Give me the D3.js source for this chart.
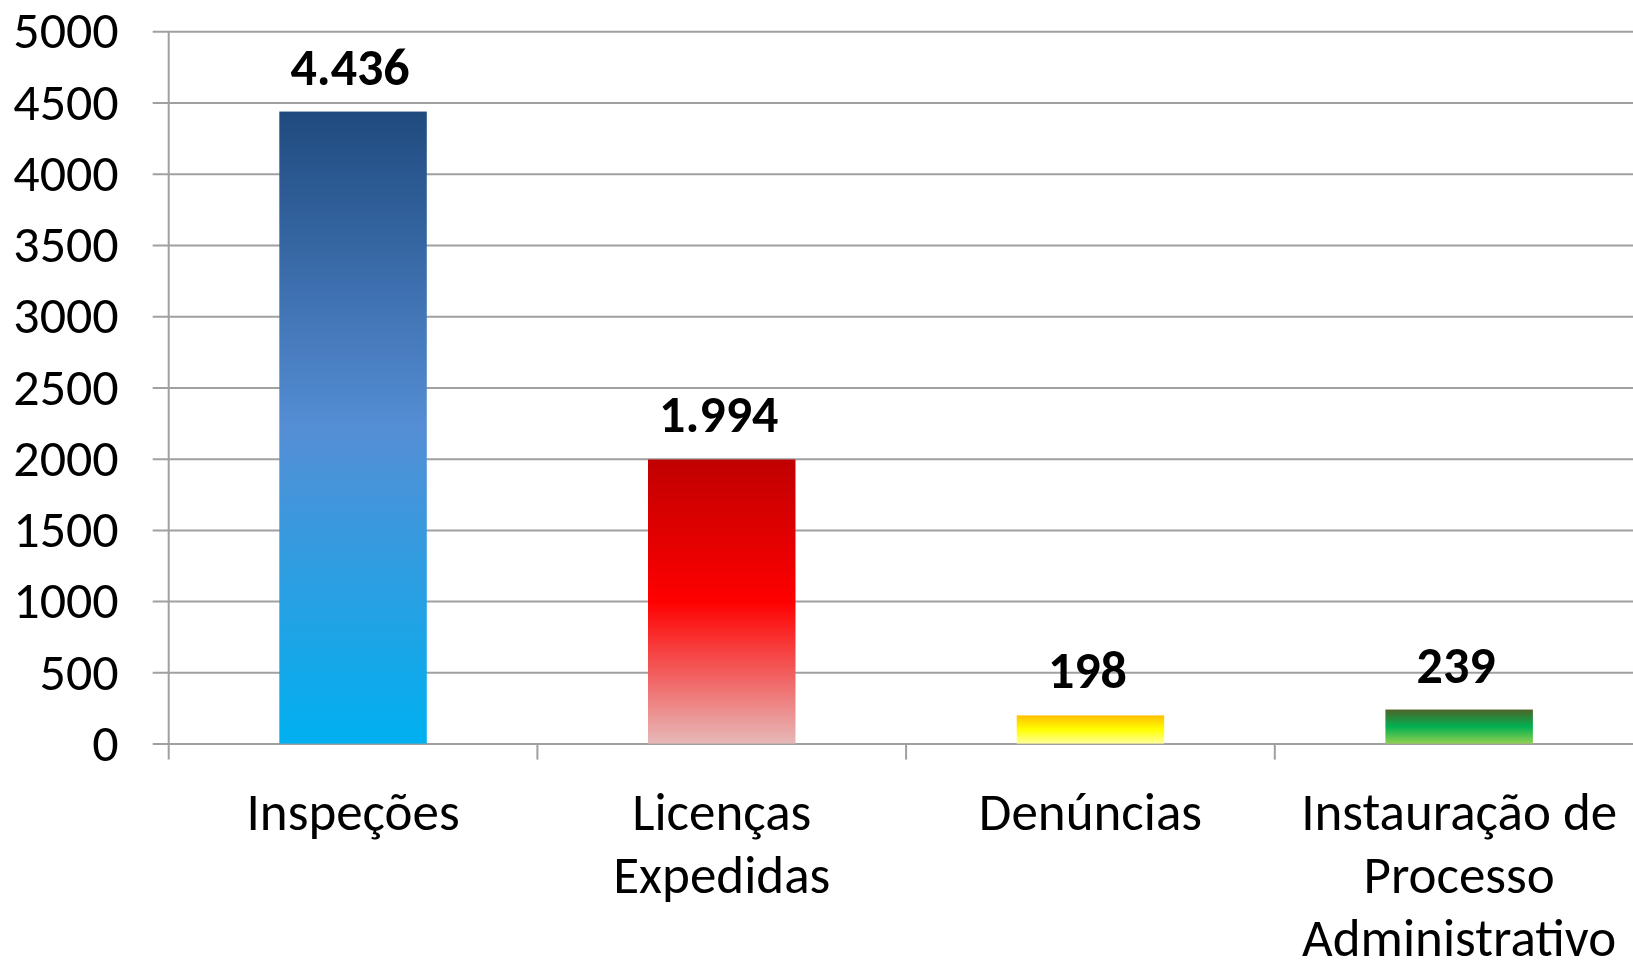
<!DOCTYPE html>
<html>
<head>
<meta charset="utf-8">
<script src="https://cdn.jsdelivr.net/npm/d3@7"></script>
<style>
  html, body { margin: 0; padding: 0; background: #fff; overflow: hidden; }
  svg { display: block; font-family: Calibri, Carlito, Lato, sans-serif; }
</style>
</head>
<body>
<svg id="chart" width="1633" height="961"></svg>
<script>
// bar chart — gradient bars, value labels, Excel look

const categories = [
  ['Inspeções'],
  ['Licenças', 'Expedidas'],
  ['Denúncias'],
  ['Instauração de', 'Processo', 'Administrativo']
];
const values = [4436, 1994, 198, 239];
const valueLabels = ['4.436', '1.994', '198', '239'];
const yTicks = [0, 500, 1000, 1500, 2000, 2500, 3000, 3500, 4000, 4500, 5000];

// gradient stops per bar, top -> bottom
const gradients = [
  ['#1f4a7e', '#558ed5', '#00b0f0'],
  ['#c00000', '#ff0000', '#e6b9b8'],
  ['#ffc000', '#ffff00', '#ffff99'],
  ['#4f6228', '#00b050', '#92d050']
];

const FONT = 'Calibri, Carlito, Lato, sans-serif';
const svg = d3.select('#chart');
const plotLeft = 168.7, plotTop = 31.2, plotBottom = 743.6, step = 368.7;
const plotRight = plotLeft + step * categories.length;

const x = d3.scaleBand()
  .domain(d3.range(categories.length))
  .range([plotLeft, plotRight])
  .padding(0);

const y = d3.scaleLinear().domain([0, 5000]).range([plotBottom, plotTop]);

const defs = svg.append('defs');
gradients.forEach((stops, i) => {
  const g = defs.append('linearGradient')
    .attr('id', 'grad' + i)
    .attr('x1', 0).attr('y1', 0).attr('x2', 0).attr('y2', 1);
  stops.forEach((c, j) => {
    g.append('stop')
      .attr('offset', (j / (stops.length - 1) * 100) + '%')
      .attr('stop-color', c);
  });
});

// gridlines + y labels (ticks stick out 16px to the left of the axis)
const yAxis = d3.axisLeft(y)
  .tickValues(yTicks)
  .tickSizeInner(-(plotRight - plotLeft + 16))
  .tickSizeOuter(0)
  .tickPadding(34)
  .tickFormat(d3.format('d'));

const yG = svg.append('g')
  .attr('transform', `translate(${plotLeft - 16},0)`)
  .call(yAxis)
  .attr('font-family', FONT)
  .attr('font-size', 52);
yG.select('.domain').remove();
yG.selectAll('.tick line').attr('stroke', '#a0a0a0').attr('stroke-width', 2);
yG.selectAll('.tick text').attr('fill', '#000');

// vertical axis line
svg.append('line')
  .attr('x1', plotLeft).attr('x2', plotLeft)
  .attr('y1', plotTop).attr('y2', plotBottom + 16)
  .attr('stroke', '#a0a0a0').attr('stroke-width', 2);

// category boundary ticks
svg.append('g').selectAll('line')
  .data(d3.range(1, categories.length + 1))
  .join('line')
  .attr('x1', d => plotLeft + d * x.step())
  .attr('x2', d => plotLeft + d * x.step())
  .attr('y1', plotBottom).attr('y2', plotBottom + 16)
  .attr('stroke', '#a0a0a0').attr('stroke-width', 2);

// bars
const barW = x.bandwidth() * 0.4;
svg.append('g').selectAll('rect')
  .data(values)
  .join('rect')
  .attr('x', (d, i) => x(i) + (x.bandwidth() - barW) / 2)
  .attr('y', d => y(d))
  .attr('width', barW)
  .attr('height', d => plotBottom - y(d))
  .attr('fill', (d, i) => `url(#grad${i})`);

// value labels
svg.append('g').selectAll('text')
  .data(values)
  .join('text')
  .attr('x', (d, i) => x(i) + x.bandwidth() / 2 - 3)
  .attr('y', d => y(d) - 27)
  .attr('text-anchor', 'middle')
  .style('font-size', '52px')
  .style('font-weight', 'bold')
  .text((d, i) => valueLabels[i]);

// category labels
const catG = svg.append('g').selectAll('text')
  .data(categories)
  .join('text')
  .attr('x', (d, i) => x(i) + x.bandwidth() / 2)
  .attr('y', 830)
  .attr('text-anchor', 'middle')
  .style('font-size', '53px');

catG.selectAll('tspan')
  .data(d => d)
  .join('tspan')
  .attr('x', function() { return this.parentNode.getAttribute('x'); })
  .attr('dy', (d, j) => j === 0 ? 0 : 63)
  .text(d => d);
</script>
</body>
</html>
